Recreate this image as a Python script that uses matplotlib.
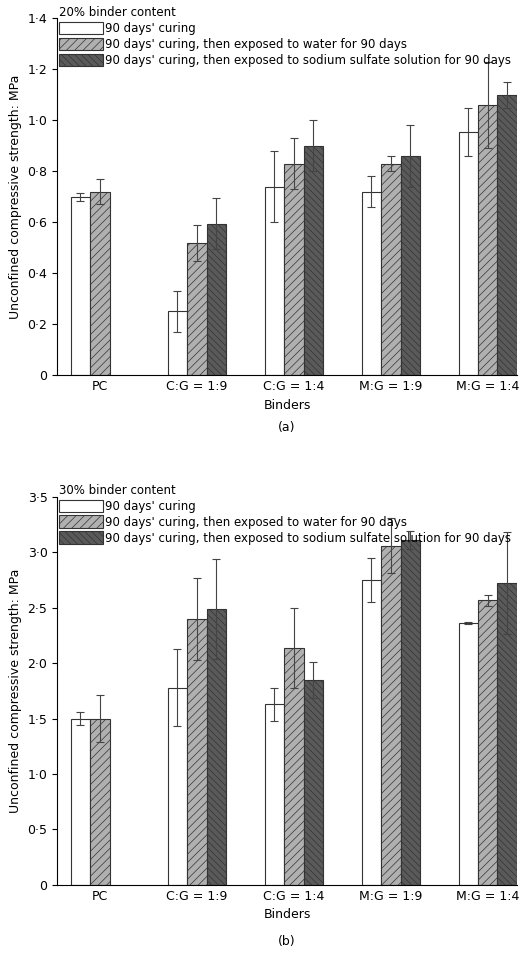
import numpy as np
import matplotlib.pyplot as plt
from matplotlib.patches import Patch
from matplotlib.ticker import FuncFormatter

binders = ['PC', 'C:G = 1:9', 'C:G = 1:4', 'M:G = 1:9', 'M:G = 1:4']
series = ["90 days' curing",
          "90 days' curing, then exposed to water for 90 days",
          "90 days' curing, then exposed to sodium sulfate solution for 90 days"]

a_cure = [0.70, 0.25, 0.74, 0.72, 0.955]
a_cure_err = [0.015, 0.08, 0.14, 0.06, 0.095]
a_water = [0.72, 0.52, 0.83, 0.83, 1.06]
a_water_err = [0.05, 0.07, 0.10, 0.03, 0.17]
a_sulf = [np.nan, 0.595, 0.90, 0.86, 1.10]
a_sulf_err = [0, 0.10, 0.10, 0.12, 0.05]

b_cure = [1.50, 1.78, 1.63, 2.75, 2.36]
b_cure_err = [0.06, 0.35, 0.15, 0.20, 0.01]
b_water = [1.50, 2.40, 2.14, 3.06, 2.57]
b_water_err = [0.21, 0.37, 0.36, 0.25, 0.05]
b_sulf = [np.nan, 2.49, 1.85, 3.11, 2.72]
b_sulf_err = [0, 0.45, 0.16, 0.08, 0.46]

styles = [dict(facecolor='white', hatch=None),
          dict(facecolor='#b0b0b0', hatch='////'),
          dict(facecolor='#5a5a5a', hatch='\\\\\\\\\\')]

plt.rcParams['hatch.linewidth'] = 0.5
fig = plt.figure(figsize=(5.2, 9.67), dpi=100)


def panel(rect, vals, errs, ymax, step, title, tag):
    ax = fig.add_axes(rect)
    x = np.arange(len(binders))
    w = 0.2
    for i, (v, e) in enumerate(zip(vals, errs)):
        ax.bar(x + (i - 1) * w, v, w, edgecolor='#333333', linewidth=0.8,
               yerr=e, capsize=3, error_kw=dict(elinewidth=0.8, ecolor='#444444', capthick=0.8),
               **styles[i])
    ax.set_xlim(-0.44, 4.3)
    ax.set_ylim(0, ymax)
    ax.set_yticks(np.arange(0, ymax + 1e-9, step))
    ax.yaxis.set_major_formatter(FuncFormatter(lambda v, p: '0' if v == 0 else f'{v:.1f}'.replace('.', '·')))
    ax.set_xticks(x)
    ax.set_xticklabels(binders)
    ax.tick_params(axis='x', length=0, labelsize=9)
    ax.tick_params(axis='y', direction='out', labelsize=9)
    ax.spines['top'].set_visible(False)
    ax.spines['right'].set_visible(False)
    ax.set_xlabel('Binders', fontsize=9)
    ax.set_ylabel('Unconfined compressive strength: MPa', fontsize=9)
    handles = [Patch(edgecolor='#333333', linewidth=0.8, **s) for s in styles]
    leg = ax.legend(handles, series, title=title, loc='upper left', bbox_to_anchor=(-0.01, 1.05),
                    frameon=False, fontsize=8.5, title_fontsize=8.5, handlelength=3.8,
                    handleheight=1.2, handletextpad=0.1, labelspacing=0.25, borderpad=0)
    leg._legend_box.align = 'left'
    ax.text(0.5, -0.155, tag, transform=ax.transAxes, ha='center', fontsize=9)
    return ax


panel([0.11, 0.612, 0.884, 0.369], [a_cure, a_water, a_sulf], [a_cure_err, a_water_err, a_sulf_err],
      1.4, 0.2, '20% binder content', '(a)')
panel([0.11, 0.085, 0.884, 0.401], [b_cure, b_water, b_sulf], [b_cure_err, b_water_err, b_sulf_err],
      3.5, 0.5, '30% binder content', '(b)')

fig.savefig('out.png', dpi=100)
